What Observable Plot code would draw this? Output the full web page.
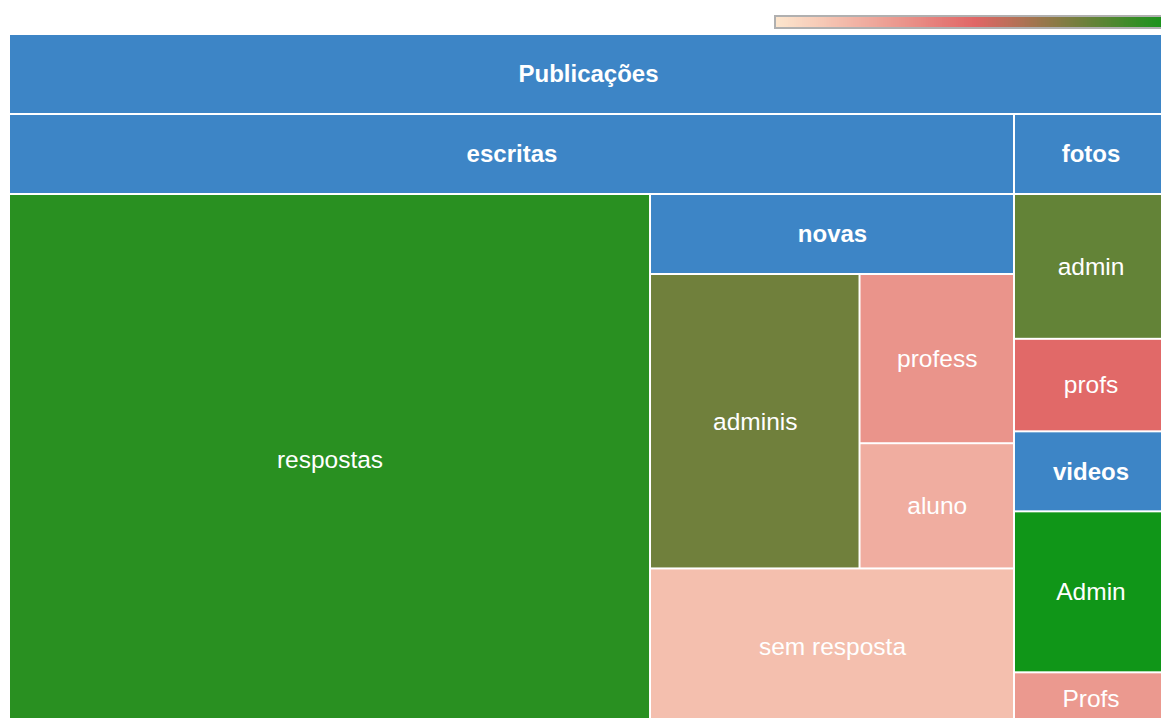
<!DOCTYPE html>
<html><head><meta charset="utf-8">
<script src="https://cdn.jsdelivr.net/npm/d3@7"></script>
<script src="https://cdn.jsdelivr.net/npm/@observablehq/plot@0.6"></script>
<style>
html,body{margin:0;padding:0;overflow:hidden;background:#fff;}
#wrap{position:relative;width:1161px;height:718px;overflow:hidden;}
#legend{position:absolute;left:774px;top:15px;width:396px;height:10px;border:2px solid #b0b0b0;line-height:0;}
#legend svg{max-width:none;display:block;}
#chart svg{display:block;}
</style></head>
<body><div id="wrap"><div id="chart"></div><div id="legend"></div></div>
<script>
// Hierarchy: node names, their parents, sizes (leaves) and colour values (leaves)
const names   = ["Publicações","escritas","fotos","respostas","novas","adminis","profess","aluno","sem resposta","admin","profs","videos","Admin","Profs"];
const parents = [null,"Publicações","Publicações","escritas","escritas","novas","novas","novas","novas","fotos","fotos","fotos","videos","videos"];
const sizes   = [0,0,0,553,0,118,50,37,109,36,23,0,55,18];
const colorValues = [null,null,null,94,null,77,32,22,15,80,49,null,100,30];

const colorDomain = [0, 50, 100];
const colorRange = ["#fce5cd", "#e06666", "#109618"];
const colorOpts = {type: "linear", domain: colorDomain, range: colorRange, interpolate: "rgb"};

const table = names.map((name, i) => ({name, parent: parents[i], size: sizes[i], color: colorValues[i]}));

// Binary partition splitting near the golden ratio, along the longer side
const PHI = (Math.sqrt(5) - 1) / 2;
function tileGolden(parent, x0, y0, x1, y1) {
  const nodes = parent.children, n = nodes.length;
  const sums = [0];
  for (const c of nodes) sums.push(sums[sums.length - 1] + c.value);
  (function part(i, j, x0, y0, x1, y1) {
    if (j - i === 1) { const nd = nodes[i]; nd.x0 = x0; nd.y0 = y0; nd.x1 = x1; nd.y1 = y1; return; }
    const total = sums[j] - sums[i];
    let best = i + 1, bd = Infinity;
    for (let k = i + 1; k < j; k++) {
      const d = Math.abs((sums[k] - sums[i]) / total - PHI);
      if (d < bd) { bd = d; best = k; }
    }
    const f = (sums[best] - sums[i]) / total;
    if (x1 - x0 > y1 - y0) {
      const xk = x0 + (x1 - x0) * f;
      part(i, best, x0, y0, xk, y1); part(best, j, xk, y0, x1, y1);
    } else {
      const yk = y0 + (y1 - y0) * f;
      part(i, best, x0, y0, x1, yk); part(best, j, x0, yk, x1, y1);
    }
  })(0, n, x0, y0, x1, y1);
}

const HEADER = 78, LEFT = 10, TOP = 35;
const root = d3.stratify().id(d => d.name).parentId(d => d.parent)(table).sum(d => d.size);
d3.treemap().tile(tileGolden).size([1156, 689]).paddingInner(2).paddingTop(HEADER + 2)(root);
const all = root.descendants().map(n => ({
  name: n.data.name, color: n.data.color, leaf: !n.children,
  x0: n.x0 + LEFT, x1: n.x1 + LEFT, y0: n.y0 + TOP, y1: n.y1 + TOP
}));
const leaves = all.filter(d => d.leaf);
const headers = all.filter(d => !d.leaf);

const font = "'Liberation Sans', Arial, sans-serif";
const chart = Plot.plot({
  width: 1161, height: 718, margin: 0,
  x: {domain: [0, 1161], range: [0, 1161], axis: null},
  y: {domain: [0, 718], range: [0, 718], axis: null},
  color: colorOpts,
  style: {fontFamily: font, background: "#fff"},
  marks: [
    Plot.rect(headers, {x1: "x0", x2: "x1", y1: "y0", y2: d => d.y0 + HEADER, fill: "#3d85c6", clip: true}),
    Plot.rect(leaves, {x1: "x0", x2: "x1", y1: "y0", y2: "y1", fill: "color", clip: true}),
    Plot.text(headers, {x: d => (d.x0 + d.x1) / 2, y: d => d.y0 + HEADER / 2, text: "name",
      fill: "#fff", fontSize: 24, fontWeight: "bold", clip: true}),
    Plot.text(leaves, {x: d => (d.x0 + d.x1) / 2, y: d => (d.y0 + d.y1) / 2, text: "name",
      fill: "#fff", fontSize: 24.5, clip: true})
  ]
});
document.getElementById("chart").appendChild(chart);

// Colour gradient legend
const legendSteps = d3.range(colorDomain[0], colorDomain[2], 0.5);
const legend = Plot.plot({
  width: 396, height: 10, margin: 0,
  x: {domain: [colorDomain[0], colorDomain[2]], axis: null},
  color: colorOpts,
  marks: [Plot.rectX(legendSteps, {x1: d => d, x2: d => d + 1.5, fill: d => d, shapeRendering: "crispEdges", clip: true})]
});
document.getElementById("legend").appendChild(legend);
</script>
</body></html>
